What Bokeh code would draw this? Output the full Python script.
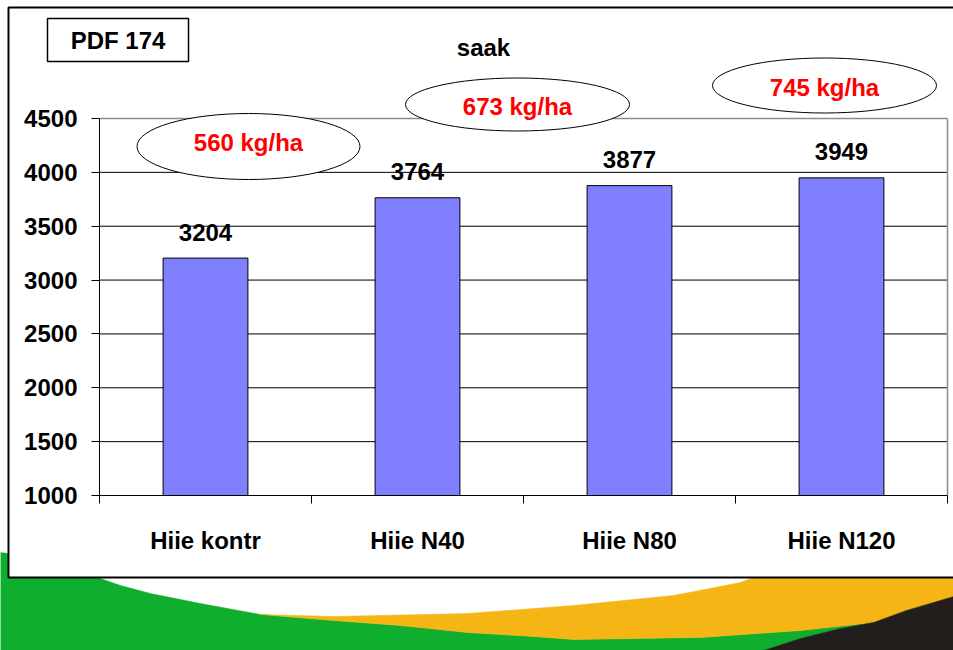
from bokeh.plotting import figure
from bokeh.models import Range1d, FixedTicker
from bokeh.core.properties import value
from bokeh.embed import file_html
from bokeh.resources import INLINE

# ---------------- data ----------------
categories = ["Hiie kontr", "Hiie N40", "Hiie N80", "Hiie N120"]
yields = [3204, 3764, 3877, 3949]
increase_labels = ["560 kg/ha", "673 kg/ha", "745 kg/ha"]
y_ticks = [1000, 1500, 2000, 2500, 3000, 3500, 4000, 4500]
title_text = "saak"
tag_text = "PDF 174"

# ---------------- page geometry (pixels) ----------------
W, H = 953, 650
FONT = "Liberation Sans"
FS = "24px"
BAR_COLOR = "#8080FF"
Y_MIN, Y_MAX = y_ticks[0], y_ticks[-1]
N = len(categories)
X0_PX, X_STEP_PX = 99, 212      # category axis: x=0 at px 99, 212 px per category
YB_PX, YT_PX = 495, 118         # value axis: Y_MIN at px 495, Y_MAX at px 118
UNIT_PER_PX = (Y_MAX - Y_MIN) / (YB_PX - YT_PX)


def px2x(px):
    return (px - X0_PX) / X_STEP_PX


def px2y(py):
    return Y_MIN + (YB_PX - py) * UNIT_PER_PX


centers = [i + 0.5 for i in range(N)]

p = figure(width=W, height=H,
           x_range=Range1d(px2x(0), px2x(W)), y_range=Range1d(px2y(H), px2y(0)),
           output_backend="svg", toolbar_location=None, min_border=0)
p.outline_line_color = None
p.background_fill_color = "white"
p.border_fill_color = "white"
p.grid.visible = False

# ---------------- decorative background swoosh (non-overlapping shapes) ----------------
green_px = [(0, 552), (8, 553), (97, 577), (120, 585), (150, 593), (200, 603), (260, 614),
            (333, 620), (400, 625), (467, 632), (533, 636), (573, 639), (700, 637),
            (800, 630), (873, 622), (840, 628), (800, 638), (763, 650), (0, 650)]
yellow_px = [(260, 614), (333, 616), (467, 613), (573, 605), (673, 595), (740, 582),
             (753, 577), (953, 577), (953, 596), (906, 610), (873, 622), (800, 630),
             (700, 637), (573, 639), (533, 636), (467, 632), (400, 625), (333, 620)]
dark_px = [(763, 650), (800, 638), (840, 628), (873, 622), (906, 610), (953, 596), (953, 650)]
for pts, col in [(green_px, "#10AE2E"), (yellow_px, "#F5B515"), (dark_px, "#221E1C")]:
    p.patch([px2x(a) for a, b in pts], [px2y(b) for a, b in pts],
            fill_color=col, line_color=col, line_width=0.5)

# white slide box with black border
BOX_L, BOX_T, BOX_B, BOX_R = 8, 7, 577, 960
p.quad(left=px2x(BOX_L), right=px2x(BOX_R), top=px2y(BOX_T), bottom=px2y(BOX_B),
       fill_color="white", line_color="black", line_width=2)

# ---------------- chart ----------------
# horizontal gridlines (black) inside the axis extent
grid_vals = [t for t in y_ticks if Y_MIN < t < Y_MAX]
p.segment(x0=[0] * len(grid_vals), x1=[N] * len(grid_vals), y0=grid_vals, y1=grid_vals,
          line_color="black", line_width=1)
# plot-area border top / right (gray)
p.segment(x0=[0, N], y0=[Y_MAX, Y_MIN], x1=[N, N], y1=[Y_MAX, Y_MAX],
          line_color="#8c8c8c", line_width=1.5)

# y axis
ya = p.yaxis[0]
ya.fixed_location = 0
ya.ticker = FixedTicker(ticks=y_ticks)
ya.bounds = (Y_MIN, Y_MAX)
ya.axis_line_color = "black"
ya.major_tick_out = 8
ya.major_tick_in = 0
ya.minor_tick_line_color = None
ya.major_label_standoff = 14
ya.major_label_text_font = FONT
ya.major_label_text_font_style = "bold"
ya.major_label_text_font_size = FS
ya.major_label_text_color = "black"

# x axis: labels at centers, ticks at category boundaries
xa = p.xaxis[0]
xa.fixed_location = Y_MIN
xa.ticker = FixedTicker(ticks=centers, minor_ticks=list(range(N + 1)))
xa.bounds = (0, N)
xa.major_label_overrides = {c: lab for c, lab in zip(centers, categories)}
xa.major_tick_line_color = None
xa.major_tick_out = 0
xa.major_tick_in = 0
xa.minor_tick_out = 8
xa.minor_tick_in = 0
xa.minor_tick_line_color = "black"
xa.axis_line_color = "black"
xa.major_label_standoff = 23
xa.major_label_text_font = FONT
xa.major_label_text_font_style = "bold"
xa.major_label_text_font_size = FS
xa.major_label_text_color = "black"

# bars
p.vbar(x=centers, top=yields, bottom=Y_MIN, width=0.40,
       fill_color=BAR_COLOR, line_color="black", line_width=1)

# value labels
p.text(x=centers, y=yields, text=[str(v) for v in yields],
       text_align="center", text_baseline="middle", y_offset=-26,
       text_font=value(FONT), text_font_style="bold", text_font_size=FS,
       text_color="black")

# increase ellipses + labels (pixel positions)
ell_px = [(248, 146), (517, 104), (824, 85)]
ell_w = [223, 224, 224]
ell_h = [66, 53, 55]
lab_py = [142, 106, 87]
p.ellipse(x=[px2x(a) for a, b in ell_px], y=[px2y(b) for a, b in ell_px],
          width=ell_w, height=ell_h, width_units="screen", height_units="screen",
          fill_color="white", line_color="black", line_width=1)
p.text(x=[px2x(a) for a, b in ell_px], y=[px2y(b) for b in lab_py], text=increase_labels,
       text_align="center", text_baseline="middle", text_font=value(FONT),
       text_font_style="bold", text_font_size=FS, text_color="#FF0000")

# title
p.text(x=[px2x(483)], y=[px2y(47)], text=[title_text], text_align="center",
       text_baseline="middle", text_font=value(FONT), text_font_style="bold",
       text_font_size=FS, text_color="black")

# tag box
TAG_L, TAG_R, TAG_T, TAG_B = 47, 188, 18, 61
p.quad(left=px2x(TAG_L), right=px2x(TAG_R), top=px2y(TAG_T), bottom=px2y(TAG_B),
       fill_color="white", line_color="black", line_width=1.5)
p.text(x=[px2x((TAG_L + TAG_R) / 2)], y=[px2y((TAG_T + TAG_B) / 2)], text=[tag_text],
       text_align="center", text_baseline="middle", text_font=value(FONT),
       text_font_style="bold", text_font_size=FS, text_color="black")

open("out.html", "w").write(file_html(p, INLINE))
